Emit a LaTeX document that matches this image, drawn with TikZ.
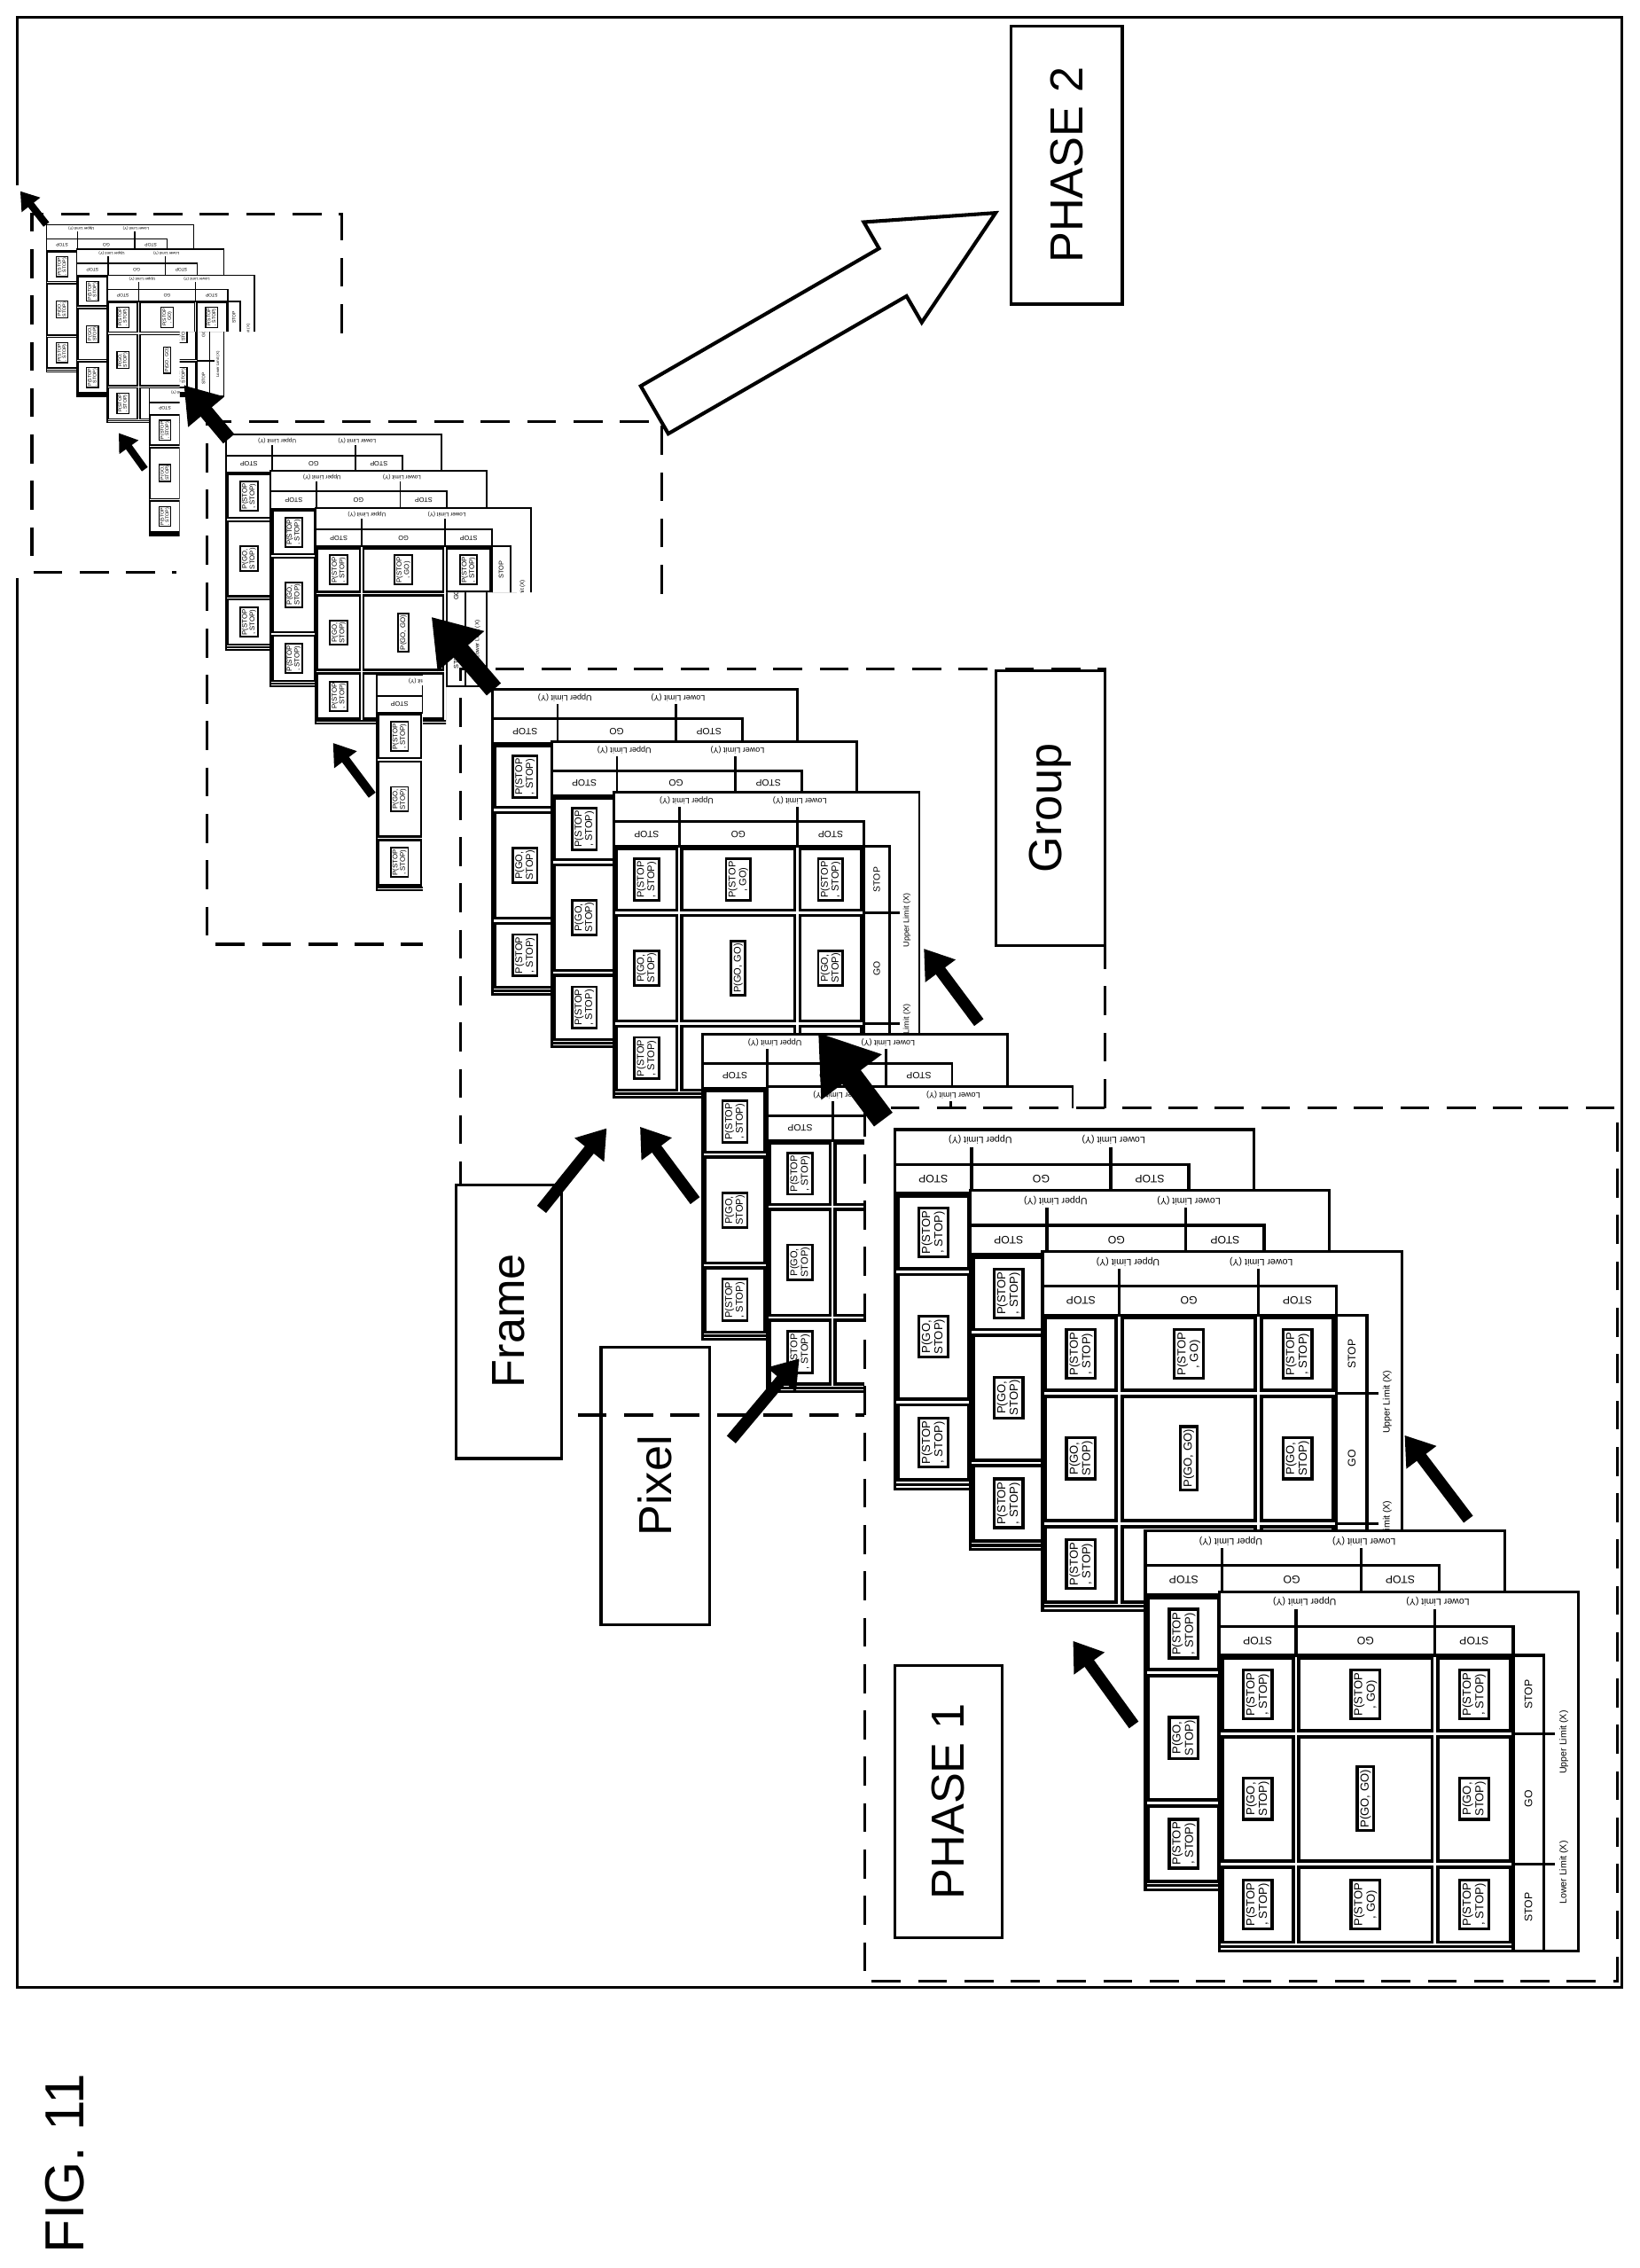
\documentclass[tikz,border=0pt]{standalone}
\usepackage{fontspec}
\setmainfont{Liberation Sans}
\usetikzlibrary{arrows.meta}
\tikzset{
 hf/.style={inner sep=0pt,font=\fontsize{6.5}{7}\selectfont},
 sf/.style={inner sep=0pt,font=\fontsize{7.5}{8}\selectfont},
 cf/.style={draw,rotate=90,inner sep=2pt,align=center,font=\fontsize{8}{8.6}\selectfont},
 lb/.style={draw,line width=2pt,fill=white},
 big/.style={rotate=90,font=\fontsize{32}{36}\selectfont},
 dsh/.style={line width=2pt,dash pattern=on 20pt off 12pt},
 ar/.style={line width=#1,line cap=butt,-{Triangle[length=0pt 2.4,width=0pt 3.1]}}
}
\newcommand\gcell[5]{%
 \draw[line width=2.4*\gs pt] (#1+2,#3+2) rectangle (#2-2,#4-2);
 \node[cf,line width=2*\gs pt] at ({(#1+#2)/2},{(#3+#4)/2}) {#5};}
\newcommand\grid[4]{\begin{scope}[shift={(#2,#3)},scale=#4,transform shape]\def\gs{#4}
 \fill[white] (0,0) rectangle (248,248);
 \draw[line width=2*\gs pt] (0,0) coordinate (#1) rectangle (248,248);
 \draw[line width=2*\gs pt] (0,24) rectangle (203,44);
 \draw[line width=2*\gs pt] (53,12)--(53,44) (149,12)--(149,44);
 \draw[line width=2*\gs pt] (203,44) rectangle (224,248);
 \draw[line width=2*\gs pt] (203,98)--(232,98) (203,188)--(232,188);
 \node[hf,rotate=180] at (59,7) {Upper Limit (Y)};
 \node[hf,rotate=180] at (151,7) {Lower Limit (Y)};
 \node[sf,rotate=180] at (26.5,34) {STOP};
 \node[sf,rotate=180] at (101,34) {GO};
 \node[sf,rotate=180] at (176,34) {STOP};
 \node[sf,rotate=90] at (213.5,71) {STOP};
 \node[sf,rotate=90] at (213.5,143) {GO};
 \node[sf,rotate=90] at (213.5,218) {STOP};
 \node[hf,rotate=90] at (238,104) {Upper Limit (X)};
 \node[hf,rotate=90] at (238,194) {Lower Limit (X)};
 \gcell{0}{53}{44}{98}{P(STOP\\, STOP)}
 \gcell{53}{149}{44}{98}{P(STOP\\, GO)}
 \gcell{149}{203}{44}{98}{P(STOP\\, STOP)}
 \gcell{0}{53}{98}{188}{P(GO,\\STOP)}
 \gcell{53}{149}{98}{188}{P(GO, GO)}
 \gcell{149}{203}{98}{188}{P(GO,\\STOP)}
 \gcell{0}{53}{188}{244}{P(STOP\\, STOP)}
 \gcell{53}{149}{188}{244}{P(STOP\\, GO)}
 \gcell{149}{203}{188}{244}{P(STOP\\, STOP)}
 \draw[line width=2*\gs pt] (0,245)--(203,245);
\end{scope}}
\begin{document}
\begin{tikzpicture}[x=1pt,y=-1pt]
\useasboundingbox (0,0) rectangle (1132,1566);
% smallest stack
\grid{gA}{32}{155}{0.41}
\grid{gB}{53}{172}{0.41}
\begin{scope}\clip (0,0) rectangle (1132,229) (0,229) rectangle (124,1566);\grid{gC}{74}{190}{0.41}\end{scope}
\begin{scope}\clip (0,0) rectangle (124,1566);\grid{gD}{103}{268}{0.41}\end{scope}
% small stack
\grid{gE}{156}{300}{0.6}
\grid{gF}{187}{325}{0.6}
\begin{scope}\clip (0,0) rectangle (1132,409) (0,409) rectangle (308,1566);\grid{gG}{218}{351}{0.6}\end{scope}
\begin{scope}\clip (0,0) rectangle (292,1566);\grid{gH}{260}{466}{0.6}\end{scope}
% frame stack
\grid{gI}{340}{476}{0.85}
\grid{gJ}{381}{512}{0.85}
\grid{gK}{424}{547}{0.85}
\grid{gL}{485}{714}{0.85}
\grid{gM}{530}{750}{0.85}
% phase 1
\fill[white] (597,765) rectangle (1117,1368);
\grid{gN}{618}{780}{1}
\grid{gO}{670}{822}{1}
\grid{gP}{720}{864}{1}
\grid{gQ}{791}{1057}{1}
\grid{gR}{842}{1099}{1}
% frame
\draw[line width=2pt] (12,128)--(12,12)--(1120,12)--(1120,1372)--(12,1372)--(12,399);
% pixel label (under dashed line)
\draw[lb] (415,930) rectangle (490,1122);
\node[big] (pix) at (452.5,1026) {Pixel};
% dashed boxes
\draw[dsh] (236,230)--(236,148)--(22,148)--(22,395)--(122,395);
\draw[dsh] (457,410)--(457,291)--(143,291)--(143,652)--(292,652);
\draw[dsh] (763,765)--(763,462)--(318,462)--(318,977)--(597,977);
\draw[dsh] (597,765) rectangle (1117,1368);
% labels
\draw[lb] (698,18) rectangle (775,210);
\node[big] (p2) at (736.5,114) {PHASE 2};
\draw[lb] (688,463) rectangle (763,653);
\node[big] (grp) at (725.5,558) {Group};
\draw[lb] (315,818) rectangle (388,1007);
\node[big] (frm) at (351.5,912) {Frame};
\draw[lb] (618,1150) rectangle (692,1338);
\node[big] (p1) at (655,1244) {PHASE 1};
\node[rotate=90,font=\fontsize{38}{42}\selectfont] (fig) at (45,1494) {FIG. 11};
% hollow arrow
\begin{scope}[shift={(452,283)},rotate=30]
\draw[line width=2.5pt,fill=white] (0,-19)--(190,-19)--(190,-40)--(272,0)--(190,40)--(190,19)--(0,19)--cycle;
\end{scope}
% black arrows
\coordinate (a1t) at (32,155); \coordinate (a1h) at (14,132);
\coordinate (a2t) at (100,324); \coordinate (a2h) at (82,299);
\coordinate (a3t) at (158,303); \coordinate (a3h) at (127,266);
\coordinate (a4t) at (257,549); \coordinate (a4h) at (230,513);
\coordinate (a5t) at (341,476); \coordinate (a5h) at (298,426);
\coordinate (a6t) at (374,835); \coordinate (a6h) at (419,779);
\coordinate (a7t) at (480,829); \coordinate (a7h) at (442,778);
\coordinate (a8t) at (505,994); \coordinate (a8h) at (552,938);
\coordinate (a9t) at (610,773); \coordinate (a9h) at (565,713);
\coordinate (a10t) at (676,706); \coordinate (a10h) at (638,655);
\coordinate (a11t) at (1014,1049); \coordinate (a11h) at (970,991);
\coordinate (a12t) at (783,1191); \coordinate (a12h) at (741,1133);
\draw[ar=5pt] (a1t)--(a1h);
\draw[ar=5pt] (a2t)--(a2h);
\draw[ar=10pt] (a3t)--(a3h);
\draw[ar=6pt] (a4t)--(a4h);
\draw[ar=13pt] (a5t)--(a5h);
\draw[ar=8pt] (a6t)--(a6h);
\draw[ar=8pt] (a7t)--(a7h);
\draw[ar=8pt] (a8t)--(a8h);
\draw[ar=16pt] (a9t)--(a9h);
\draw[ar=8pt] (a10t)--(a10h);
\draw[ar=8pt] (a11t)--(a11h);
\draw[ar=8pt] (a12t)--(a12h);
\end{tikzpicture}
\end{document}
